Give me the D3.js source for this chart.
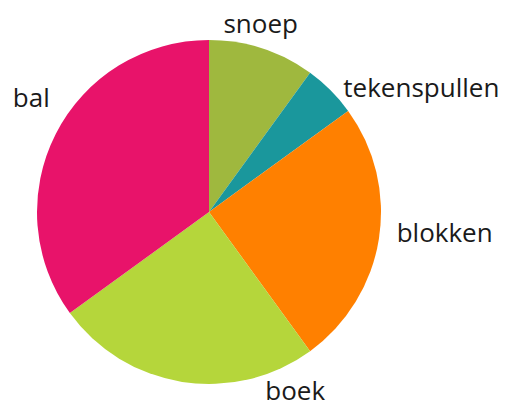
<!DOCTYPE html>
<html>
<head>
<meta charset="utf-8">
<script src="https://cdn.jsdelivr.net/npm/d3@7"></script>
<style>
  html, body { margin: 0; padding: 0; background: #fff; }
  svg { display: block; }
</style>
</head>
<body>
<svg id="chart"></svg>
<script>
const categories = ['snoep', 'tekenspullen', 'blokken', 'boek', 'bal'];
const values = [10, 5, 25, 25, 35];
const colors = ['#9fb83e', '#1a979c', '#ff8000', '#b5d63b', '#e8136a'];

const width = 517, height = 403;
const cx = 209, cy = 212, radius = 172;
const labelRadius = 190;

// label placement tweaks (anchor + nudge from the label arc point)
const labelStyle = {
    snoep: { anchor: 'middle', dx: -7, dy: 2 },
    tekenspullen: { anchor: 'start', dx: 0, dy: 19 },
    blokken: { anchor: 'start', dx: 0, dy: 0 },
    boek: { anchor: 'start', dx: 86, dy: 0 },
    bal: { anchor: 'end', dx: 10, dy: -19 }
};

const svg = d3.select('#chart')
    .attr('width', width)
    .attr('height', height);

const g = svg.append('g')
    .attr('transform', `translate(${cx},${cy})`);

const data = categories.map((c, i) => ({ name: c, value: values[i], color: colors[i] }));

const pie = d3.pie()
    .value(d => d.value)
    .sort(null);

const arc = d3.arc()
    .innerRadius(0)
    .outerRadius(radius);

const arcs = pie(data);

g.selectAll('path')
    .data(arcs)
    .enter()
    .append('path')
    .attr('d', arc)
    .attr('fill', d => d.data.color);

g.selectAll('text')
    .data(arcs)
    .enter()
    .append('text')
    .attr('x', d => {
        const a = (d.startAngle + d.endAngle) / 2;
        return labelRadius * Math.sin(a) + labelStyle[d.data.name].dx;
    })
    .attr('y', d => {
        const a = (d.startAngle + d.endAngle) / 2;
        return -labelRadius * Math.cos(a) + labelStyle[d.data.name].dy;
    })
    .attr('text-anchor', d => labelStyle[d.data.name].anchor)
    .style('font-family', '"Open Sans", sans-serif')
    .style('font-size', '26px')
    .style('fill', '#1a1a1a')
    .text(d => d.data.name);
</script>
</body>
</html>
